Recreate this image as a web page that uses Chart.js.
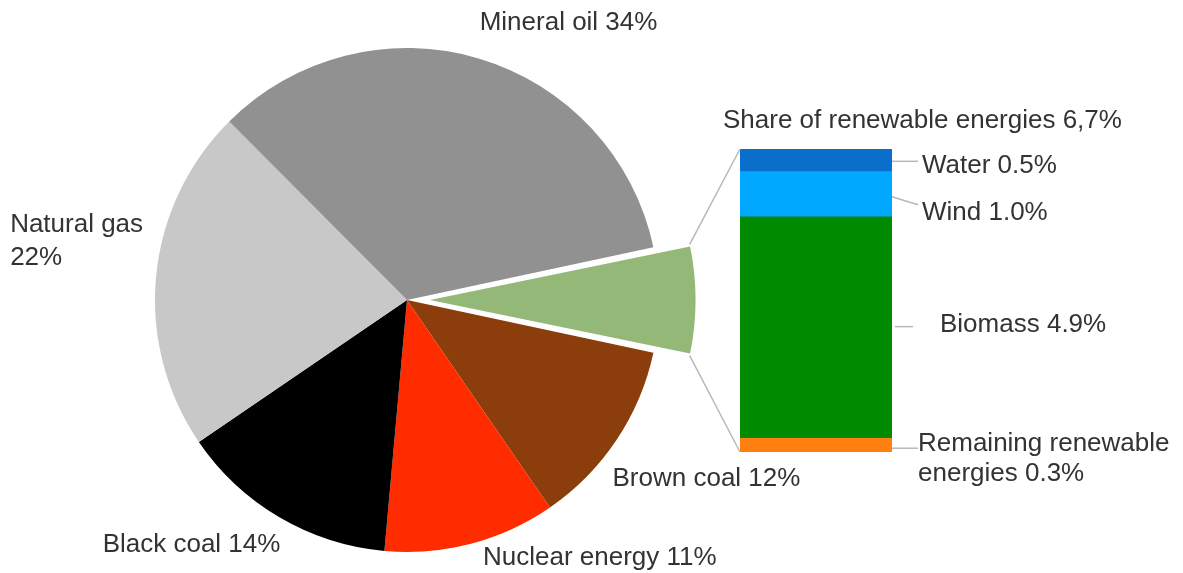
<!DOCTYPE html>
<html>
<head>
<meta charset="utf-8">
<title>Primary energy consumption</title>
<script src="https://cdn.jsdelivr.net/npm/chart.js@4.4.1/dist/chart.umd.min.js"></script>
<style>
  html, body { margin: 0; padding: 0; background: #fff; overflow: hidden; }
  #wrap { position: relative; width: 1183px; height: 573px; }
  #wrap canvas { position: absolute; left: 0; top: 0; }
</style>
</head>
<body>
<div id="wrap">
  <canvas id="pieChart" width="1183" height="573"></canvas>
  <canvas id="barChart" width="1183" height="573"></canvas>
</div>
<script>
// Energy mix in % (clockwise, starting with the pulled-out slice)
const pieLabels = ['Renewable energies', 'Brown coal', 'Nuclear energy', 'Black coal', 'Natural gas', 'Mineral oil'];
const pieValues = [6.7, 12, 11, 14, 22, 34];
const pieColors = ['#94b878', '#8b3e0c', '#ff2c00', '#000000', '#c8c8c8', '#919191'];

// Split of the renewables, bottom to top
const renLabels = ['Remaining renewable energies', 'Biomass', 'Wind', 'Water'];
const renValues = [0.3, 4.9, 1.0, 0.5];
const renColors = ['#ff7f10', '#008a00', '#00a8ff', '#0a6fca'];

const FONT = '26px "Liberation Sans", Arial, sans-serif';
const TEXT = '#333333';
const LINE = '#b8b8b8';

const pieTotal = pieValues.reduce((a, b) => a + b, 0);
const renTotal = renValues.reduce((a, b) => a + b, 0);

// where the pie labels sit, relative to the middle of each slice's rim
const pieLabelLayout = [
    null,
    { dx: -4, dy: 46, align: 'left' },
    { dx: 12, dy: 21, align: 'left' },
    { dx: 1, dy: 35, align: 'right' },
    { dx: -146, dy: -44, align: 'left', wrap: 2, lh: 33 },
    { dx: 1, dy: -28, align: 'left' }
];

// labels next to the bar, relative to right edge / middle of each segment
const segLabelLayout = [
    { l0: [0, 3], l1: [26, 3], dx: 26, dy: 6, wrap: 2, lh: 30 },
    { l0: [3, -1], l1: [21, -1], dx: 48, dy: 4 },
    { l0: [0, 2.5], l1: [26, 10.5], dx: 30, dy: 25.5 },
    { l0: [0, 1], l1: [26, 1], dx: 30, dy: 13 }
];

const textLines = (label, valueStr, wrap) => {
    if (!wrap) return [label + ' ' + valueStr];
    const words = label.split(' ');
    const first = words.slice(0, wrap).join(' ');
    const rest = words.slice(wrap);
    rest.push(valueStr);
    return [first, rest.join(' ')];
};

const drawText = (ctx, lines, x, y, align, lh) => {
    ctx.save();
    ctx.font = FONT;
    ctx.fillStyle = TEXT;
    ctx.textAlign = align;
    ctx.textBaseline = 'alphabetic';
    lines.forEach((t, i) => ctx.fillText(t, x, y + i * (lh || 30)));
    ctx.restore();
};

const pieLabelPlugin = {
    id: 'pieLabels',
    afterDraw(chart) {
        const ctx = chart.ctx;
        chart.getDatasetMeta(0).data.forEach((arc, i) => {
            const lay = pieLabelLayout[i];
            if (!lay) return;
            const p = arc.getProps(['x', 'y', 'startAngle', 'endAngle', 'outerRadius'], true);
            const mid = (p.startAngle + p.endAngle) / 2;
            const ax = p.x + Math.cos(mid) * p.outerRadius;
            const ay = p.y + Math.sin(mid) * p.outerRadius;
            const lines = textLines(pieLabels[i], pieValues[i] + '%', lay.wrap);
            drawText(ctx, lines, ax + lay.dx, ay + lay.dy, lay.align, lay.lh);
        });
    }
};

const pieChart = new Chart(document.getElementById('pieChart'), {
    type: 'pie',
    data: {
        labels: pieLabels,
        datasets: [{
            data: pieValues,
            backgroundColor: pieColors,
            borderWidth: 0,
            offset: pieValues.map((v, i) => i === 0 ? 92 : 0)
        }]
    },
    options: {
        responsive: false,
        animation: false,
        radius: 252,
        rotation: 90 - (pieValues[0] / pieTotal * 360) / 2,
        layout: { padding: { left: 0, right: 369, top: 27, bottom: 0 } },
        plugins: { legend: { display: false }, tooltip: { enabled: false } }
    },
    plugins: [pieLabelPlugin]
});

const barLabelPlugin = {
    id: 'barLabels',
    afterDraw(chart) {
        const ctx = chart.ctx;
        const segs = chart.data.datasets.map((d, i) => chart.getDatasetMeta(i).data[0]);
        const first = segs[0];
        const last = segs[segs.length - 1];
        const left = first.x - first.width / 2;
        const right = first.x + first.width / 2;
        const top = last.y;
        const bottom = first.base;

        // lines from the pulled-out slice to the bar
        const arc = pieChart.getDatasetMeta(0).data[0];
        const p = arc.getProps(['x', 'y', 'startAngle', 'endAngle', 'outerRadius', 'circumference'], true);
        const shift = (arc.options.offset || 0) / 4;
        const half = (p.startAngle + p.endAngle) / 2;
        const fix = 1 - Math.sin(Math.min(Math.PI, p.circumference));
        const r = p.outerRadius + shift * fix;
        const cx = p.x + Math.cos(half) * shift;
        const cy = p.y + Math.sin(half) * shift;

        ctx.save();
        ctx.strokeStyle = LINE;
        ctx.lineWidth = 1.5;
        ctx.beginPath();
        ctx.moveTo(cx + Math.cos(p.startAngle) * r, cy + Math.sin(p.startAngle) * r);
        ctx.lineTo(left, top);
        ctx.moveTo(cx + Math.cos(p.endAngle) * r, cy + Math.sin(p.endAngle) * r);
        ctx.lineTo(left, bottom);
        ctx.stroke();

        // segment labels
        segs.forEach((el, i) => {
            const lay = segLabelLayout[i];
            const mid = (el.y + el.base) / 2;
            ctx.beginPath();
            ctx.moveTo(right + lay.l0[0], mid + lay.l0[1]);
            ctx.lineTo(right + lay.l1[0], mid + lay.l1[1]);
            ctx.stroke();
            const lines = textLines(renLabels[i], renValues[i].toFixed(1) + '%', lay.wrap);
            drawText(ctx, lines, right + lay.dx, mid + lay.dy, 'left', lay.lh);
        });
        ctx.restore();

        drawText(ctx, ['Share of renewable energies ' + String(renTotal.toFixed(1)).replace('.', ',') + '%'],
            left - 17, top - 21, 'left');
    }
};

new Chart(document.getElementById('barChart'), {
    type: 'bar',
    data: {
        labels: ['Renewable energies'],
        datasets: renLabels.map((l, i) => ({
            label: l,
            data: [renValues[i]],
            backgroundColor: renColors[i],
            borderWidth: 0,
            barPercentage: 1,
            categoryPercentage: 1
        }))
    },
    options: {
        responsive: false,
        animation: false,
        layout: { padding: { left: 740, right: 291, top: 149, bottom: 121 } },
        scales: {
            x: { stacked: true, display: false },
            y: { stacked: true, display: false, min: 0, max: renTotal }
        },
        plugins: { legend: { display: false }, tooltip: { enabled: false } }
    },
    plugins: [barLabelPlugin]
});
</script>
</body>
</html>
